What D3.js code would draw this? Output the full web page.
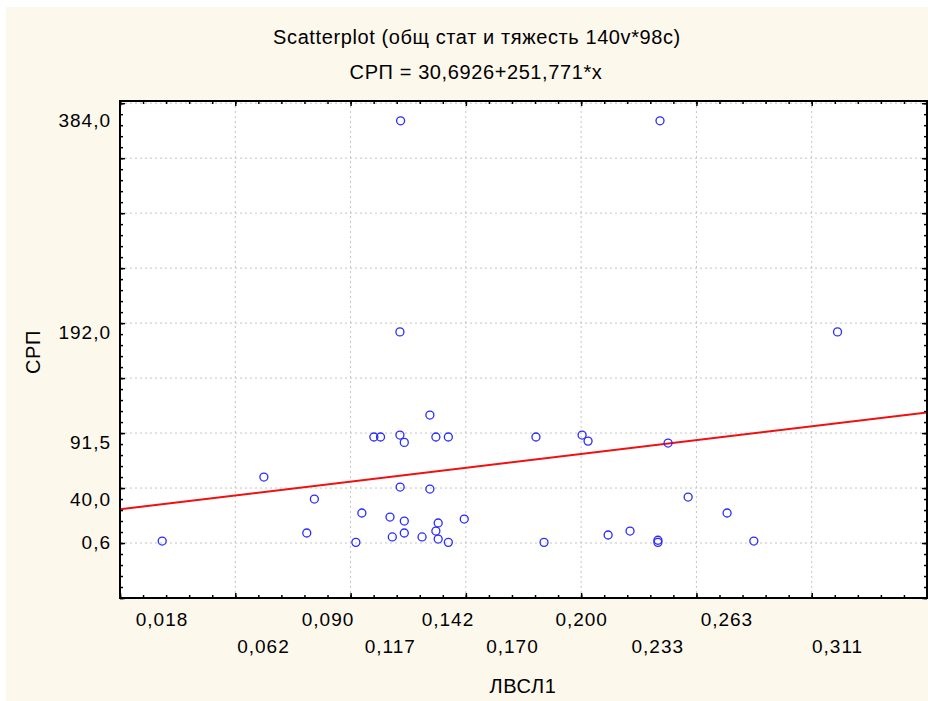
<!DOCTYPE html>
<html>
<head>
<meta charset="utf-8">
<title>Scatterplot</title>
<style>
  body { margin: 0; background: #fff; }
  text { font-family: "Liberation Sans", Arial, sans-serif; fill: #000; }
</style>
</head>
<body>
<svg id="chart" width="928" height="701"></svg>
<script src="https://d3js.org/d3.v7.min.js"></script>
<script>
// ЛВСЛ1 (x) vs СРП (y)
const xVals = [0.1217, 0.1214, 0.2342, 0.3112, 0.0183, 0.0624, 0.0810, 0.0843, 0.1023, 0.1049,
               0.1101, 0.1130, 0.1171, 0.1181, 0.1214, 0.1215, 0.1233, 0.1233, 0.1233, 0.1310,
               0.1344, 0.1344, 0.1370, 0.1370, 0.1380, 0.1380, 0.1424, 0.1424, 0.1493, 0.1804,
               0.1839, 0.2004, 0.2030, 0.2117, 0.2212, 0.2333, 0.2333, 0.2377, 0.2464, 0.2633, 0.2749]
const yVals = [384.0, 192.0, 384.0, 192.0, 1.8, 60.0, 9.1, 40.0, 0.6, 27.3,
               96.4, 96.4, 23.6, 5.5, 98.2, 50.9, 91.5, 20.0, 9.1, 5.5,
               116.4, 49.1, 96.4, 10.9, 18.2, 3.6, 96.4, 0.6, 21.8, 96.4,
               0.6, 98.2, 92.7, 7.3, 10.9, 2.5, 0.6, 90.9, 41.8, 27.3, 1.8]

// labelled values on each axis
const xLabelVals = [0.018, 0.062, 0.090, 0.117, 0.142, 0.170, 0.200, 0.233, 0.263, 0.311]
const yLabelVals = [0.6, 40.0, 91.5, 192.0, 384.0]

// fitted line СРП = a + b*x
const fitA = 30.6926
const fitB = 251.771

const svg = d3.select("#chart")
const pLeft = 120, pRight = 927, pTop = 101, pBottom = 598
const plotW = pRight - pLeft, plotH = pBottom - pTop

svg.append("rect")
  .attr("x", 6).attr("y", 7).attr("width", 928 - 6).attr("height", 701 - 7)
  .attr("fill", "#fdf8ec")

let x = d3.scaleLinear().domain([0, 0.35]).range([pLeft, pRight])
let y = d3.scaleLinear().domain([-50, 402]).range([pBottom, pTop])

let commaFmt = f => v => d3.format(f)(v).replace(".", ",")

svg.append("rect")
  .attr("x", pLeft).attr("y", pTop).attr("width", plotW).attr("height", plotH)
  .attr("fill", "#fff")

// dotted grid
let grid = svg.append("g")
grid.selectAll(".gx")
  .data(d3.range(0.05, 0.349, 0.05))
  .enter().append("line")
  .attr("x1", d => x(d)).attr("x2", d => x(d))
  .attr("y1", pTop).attr("y2", pBottom)
grid.selectAll(".gy")
  .data(d3.range(0, 401, 50))
  .enter().append("line")
  .attr("x1", pLeft).attr("x2", pRight)
  .attr("y1", d => y(d)).attr("y2", d => y(d))
grid.selectAll("line")
  .attr("stroke", "#c4c4c4")
  .attr("stroke-width", 1)
  .attr("stroke-dasharray", "2,3")

// inward ticks on all four sides
function ticks(axisFn, scale, vals, size, transform) {
  svg.append("g")
    .attr("transform", transform)
    .call(axisFn(scale).tickValues(vals).tickSize(-size).tickFormat(""))
    .call(g => g.select(".domain").remove())
    .call(g => g.selectAll("line").attr("stroke", "#000").attr("stroke-width", 1.5))
}
let xMinor = d3.range(0, 36).map(i => i * 0.01)
let xMajor = d3.range(0, 8).map(i => i * 0.05)
let yMinor = d3.range(-5, 41).map(i => i * 10)
let yMajor = d3.range(-1, 9).map(i => i * 50)
ticks(d3.axisBottom, x, xMinor, 3, `translate(0,${pBottom})`)
ticks(d3.axisBottom, x, xMajor, 5, `translate(0,${pBottom})`)
ticks(d3.axisTop, x, xMinor, 3, `translate(0,${pTop})`)
ticks(d3.axisTop, x, xMajor, 5, `translate(0,${pTop})`)
ticks(d3.axisLeft, y, yMinor, 3, `translate(${pLeft},0)`)
ticks(d3.axisLeft, y, yMajor, 5, `translate(${pLeft},0)`)
ticks(d3.axisRight, y, yMinor, 3, `translate(${pRight},0)`)
ticks(d3.axisRight, y, yMajor, 5, `translate(${pRight},0)`)

// regression line
svg.append("defs").append("clipPath").attr("id", "clip")
  .append("rect").attr("x", pLeft).attr("y", pTop).attr("width", plotW).attr("height", plotH)
let xs = x.domain()
svg.append("line")
  .attr("clip-path", "url(#clip)")
  .attr("x1", x(xs[0])).attr("y1", y(fitA + fitB * xs[0]))
  .attr("x2", x(xs[1])).attr("y2", y(fitA + fitB * xs[1]))
  .attr("stroke", "#f01010")
  .attr("stroke-width", 2)

// points
svg.selectAll("circle")
  .data(xVals.map((v, i) => [v, yVals[i]]))
  .enter().append("circle")
  .attr("cx", d => x(d[0]))
  .attr("cy", d => y(d[1]))
  .attr("r", 4)
  .attr("fill", "none")
  .attr("stroke", "#2a2aff")
  .attr("stroke-width", 1.3)

// frame
svg.append("rect")
  .attr("x", pLeft).attr("y", pTop).attr("width", plotW).attr("height", plotH)
  .attr("fill", "none").attr("stroke", "#000").attr("stroke-width", 2)

// labels
let yLab = svg.append("g")
  .attr("transform", `translate(${pLeft},0)`)
  .call(d3.axisLeft(y).tickValues(yLabelVals).tickSize(0).tickPadding(9).tickFormat(commaFmt(".1f")))
yLab.select(".domain").remove()

let row1 = xLabelVals.filter((d, i) => i % 2 == 0)
let row2 = xLabelVals.filter((d, i) => i % 2 == 1)
let xLab1 = svg.append("g")
  .attr("transform", `translate(0,${pBottom})`)
  .call(d3.axisBottom(x).tickValues(row1).tickSize(0).tickPadding(15).tickFormat(commaFmt(".3f")))
let xLab2 = svg.append("g")
  .attr("transform", `translate(0,${pBottom})`)
  .call(d3.axisBottom(x).tickValues(row2).tickSize(0).tickPadding(42).tickFormat(commaFmt(".3f")))
svg.selectAll(".domain").remove()
for (let g of [yLab, xLab1, xLab2]) {
  g.selectAll("text").style("font-size", "19px").style("letter-spacing", "1px")
}

svg.append("text")
  .attr("x", 477).attr("y", 44)
  .attr("text-anchor", "middle")
  .style("font-size", "20px")
  .style("letter-spacing", "0.6px")
  .text("Scatterplot (общ стат и тяжесть 140v*98c)")
svg.append("text")
  .attr("x", 476).attr("y", 79)
  .attr("text-anchor", "middle")
  .style("font-size", "20px")
  .style("letter-spacing", "0.6px")
  .text("СРП = 30,6926+251,771*x")

svg.append("text")
  .attr("x", 523).attr("y", 693)
  .attr("text-anchor", "middle")
  .style("font-size", "20px")
  .style("letter-spacing", "0.6px")
  .text("ЛВСЛ1")
svg.append("text")
  .attr("transform", "translate(40,352) rotate(-90)")
  .attr("text-anchor", "middle")
  .style("font-size", "20px")
  .style("letter-spacing", "0.6px")
  .text("СРП")
</script>
</body>
</html>
